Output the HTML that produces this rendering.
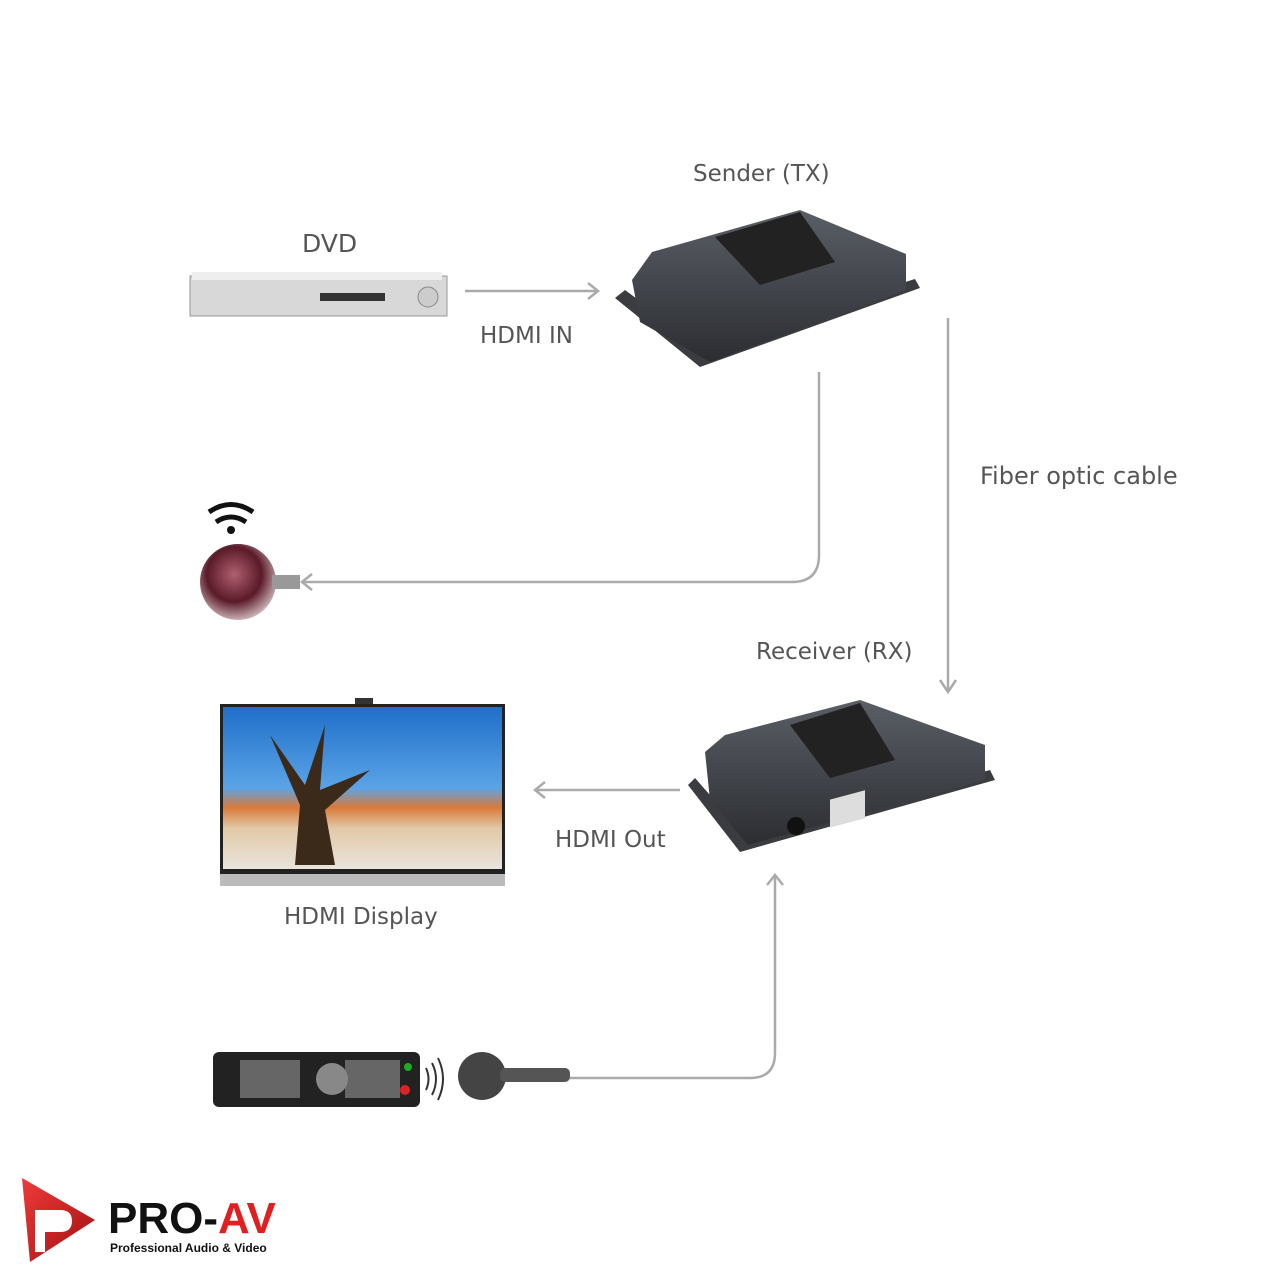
<!DOCTYPE html>
<html><head><style>
html,body{margin:0;padding:0;background:#fff;}
body{width:1280px;height:1280px;position:relative;overflow:hidden;font-family:"DejaVu Sans","Liberation Sans",sans-serif;}
.t{position:absolute;color:#555;font-size:23px;white-space:nowrap;}
</style></head><body>
<svg width="1280" height="1280" style="position:absolute;left:0;top:0">
<defs>
<linearGradient id="box" x1="0" y1="0" x2="0" y2="1"><stop offset="0" stop-color="#5a5e66"/><stop offset="1" stop-color="#2b2d31"/></linearGradient>
<linearGradient id="sky" x1="0" y1="0" x2="0" y2="1"><stop offset="0" stop-color="#1f6fc9"/><stop offset="0.5" stop-color="#5aa3e6"/><stop offset="0.62" stop-color="#d97a3a"/><stop offset="0.75" stop-color="#e2c9a8"/><stop offset="1" stop-color="#e9e4dc"/></linearGradient>
<radialGradient id="ball" cx="0.45" cy="0.4" r="0.6"><stop offset="0" stop-color="#b06070"/><stop offset="0.6" stop-color="#5a1a28"/><stop offset="1" stop-color="#c9aeb3"/></radialGradient>
<linearGradient id="logo" x1="0" y1="0" x2="1" y2="1"><stop offset="0" stop-color="#f03a3a"/><stop offset="1" stop-color="#a01010"/></linearGradient>
</defs>
<g fill="none" stroke="#aaa" stroke-width="2.5">
<path d="M465 291H598"/><path d="M588 283l10 8-10 8"/>
<path d="M819 372V555q0 27-27 27H302"/><path d="M312 574l-10 8 10 8"/>
<path d="M948 318V692"/><path d="M940 680l8 12 8-12"/>
<path d="M680 790H535"/><path d="M545 782l-10 8 10 8"/>
<path d="M570 1078H750q25 0 25-25V875"/><path d="M767 885l8-10 8 10"/>
</g>
<rect x="190" y="276" width="257" height="40" fill="#d8d8d8" stroke="#999"/>
<rect x="192" y="272" width="250" height="8" fill="#eee"/>
<rect x="320" y="293" width="65" height="8" fill="#333"/>
<circle cx="428" cy="297" r="10" fill="#ccc" stroke="#888"/>
<polygon points="615,298 700,367 920,288 915,279 700,345 625,290" fill="#3a3c40"/>
<polygon points="632,280 652,252 800,210 906,254 906,290 710,362 640,322" fill="url(#box)"/>
<polygon points="715,237 800,212 835,262 760,285" fill="#222"/>
<polygon points="688,785 740,852 995,780 990,770 745,835 695,778" fill="#3a3c40"/>
<polygon points="705,752 725,735 860,700 985,745 985,780 748,845 710,800" fill="url(#box)"/>
<polygon points="790,725 860,703 895,760 830,778" fill="#222"/>
<rect x="830" y="800" width="35" height="28" fill="#ddd" transform="skewY(-15) translate(0 222)"/>
<circle cx="796" cy="826" r="9" fill="#111"/>
<circle cx="238" cy="582" r="38" fill="url(#ball)"/>
<rect x="272" y="575" width="28" height="14" fill="#999"/>
<g fill="none" stroke="#111" stroke-width="5"><path d="M209 512q22-15 44 0"/><path d="M216 522q15-10 30 0"/></g>
<circle cx="231" cy="530" r="4" fill="#111"/>
<rect x="220" y="704" width="285" height="170" fill="#222"/>
<rect x="223" y="707" width="279" height="162" fill="url(#sky)"/>
<path d="M295 865l5-60-30-70 35 50 20-60-5 65 50-20-45 40 10 55z" fill="#3b2a1a"/>
<rect x="220" y="874" width="285" height="12" fill="#bbb"/>
<rect x="355" y="698" width="18" height="6" fill="#333"/>
<rect x="213" y="1052" width="207" height="55" rx="6" fill="#222"/>
<g fill="#666"><rect x="240" y="1060" width="60" height="38"/><rect x="345" y="1060" width="55" height="38"/></g>
<circle cx="332" cy="1079" r="16" fill="#888"/>
<circle cx="405" cy="1090" r="5" fill="#d22"/><circle cx="408" cy="1067" r="4" fill="#2a2"/>
<g fill="none" stroke="#333" stroke-width="2"><path d="M426 1068q5 11 0 22"/><path d="M432 1063q8 16 0 32"/><path d="M438 1058q10 21 0 42"/></g>
<circle cx="482" cy="1076" r="24" fill="#444"/><rect x="500" y="1068" width="70" height="14" rx="5" fill="#555"/>
<path d="M22 1178L95 1220 30 1262z" fill="url(#logo)"/>
<path d="M35 1210h25q12 0 12 11t-12 11h-15v20h-10z" fill="#fff"/>
</svg>
<div class="t" style="left:302px;top:229px;font-size:25px">DVD</div>
<div class="t" style="left:693px;top:161px">Sender (TX)</div>
<div class="t" style="left:480px;top:323px">HDMI IN</div>
<div class="t" style="left:980px;top:462px;font-size:24px">Fiber optic cable</div>
<div class="t" style="left:756px;top:639px">Receiver (RX)</div>
<div class="t" style="left:555px;top:827px">HDMI Out</div>
<div class="t" style="left:284px;top:904px">HDMI Display</div>
<div style="position:absolute;left:108px;top:1194px;font:bold 44px 'Liberation Sans',sans-serif;color:#111;letter-spacing:0px;">PRO-<span style="color:#e02020">AV</span></div>
<div style="position:absolute;left:110px;top:1241px;font:bold 12px 'Liberation Sans',sans-serif;color:#111">Professional Audio &amp; Video</div>
</body></html>
